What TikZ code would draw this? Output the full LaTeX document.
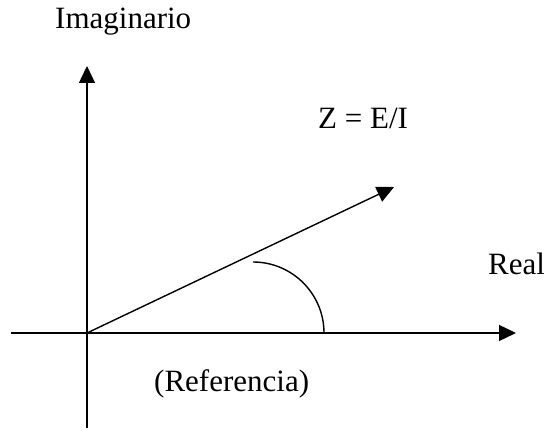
\documentclass[tikz,border=0pt]{standalone}
\usepackage{fontspec}
\setmainfont{Liberation Serif}
\usetikzlibrary{arrows.meta}
\begin{document}
\begin{tikzpicture}[x=1pt,y=1pt,
  axis/.style={line width=1.4pt,-{Triangle[length=17pt,width=16pt]}},
  plain/.style={line width=1.4pt},
  lbl/.style={anchor=base west,inner sep=0pt,font=\fontsize{31}{37}\selectfont}]
\useasboundingbox (0,0) rectangle (544,431);
\coordinate (O) at (87,98);
\coordinate (xs) at (11,98);
\coordinate (xe) at (516,98);
\coordinate (ys) at (87,3);
\coordinate (ye) at (87,365);
\coordinate (zt) at (394,244);
\coordinate (arcs) at (253,169);
\draw[axis] (xs) -- (xe);
\draw[axis] (ys) -- (ye);
\draw[axis] (O) -- (zt);
\draw[plain] (arcs) arc[start angle=90,end angle=0,radius=71];
\node[lbl] (im) at (55,402) {Imaginario};
\node[lbl] (ze) at (318,302) {Z = E/I};
\node[lbl] (re) at (488,156) {Real};
\node[lbl] (rf) at (154,39) {(Referencia)};
\end{tikzpicture}
\end{document}
